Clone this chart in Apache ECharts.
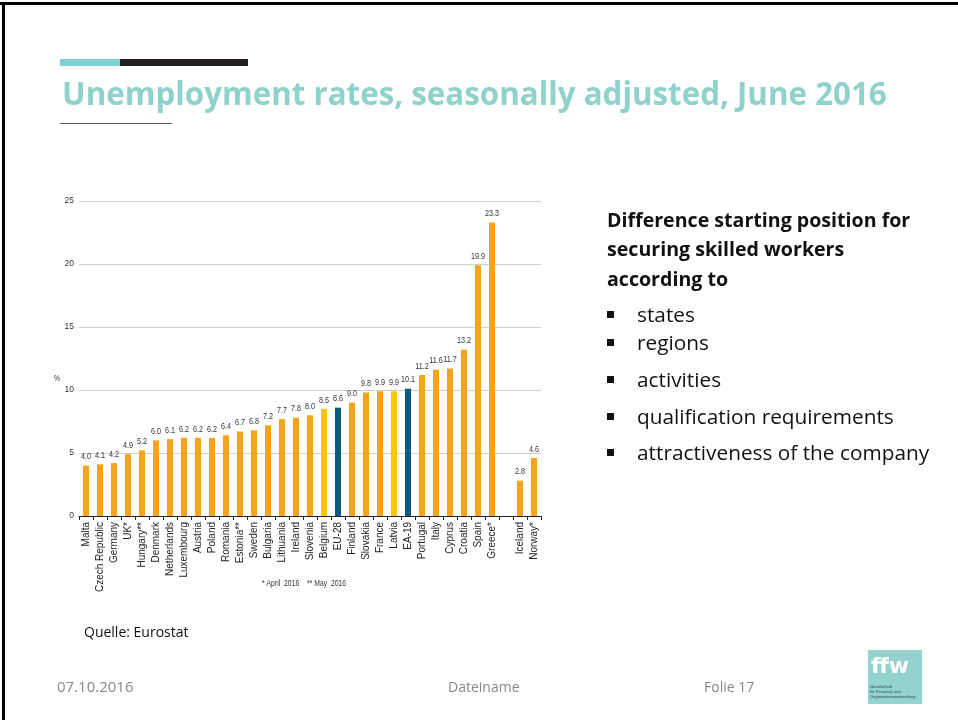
<!DOCTYPE html>
<html>
<head>
<meta charset="utf-8">
<script src="https://cdn.jsdelivr.net/npm/echarts@6/dist/echarts.min.js"></script>
<style>
  html, body { margin: 0; padding: 0; background: #fff; }
  #chart { width: 958px; height: 720px; }
</style>
</head>
<body>
<div id="chart"></div>
<script>
// Unemployment rates (%), seasonally adjusted, June 2016 — Eurostat
const countries = ['Malta', 'Czech Republic', 'Germany', 'UK*', 'Hungary**', 'Denmark', 'Netherlands',
  'Luxembourg', 'Austria', 'Poland', 'Romania', 'Estonia**', 'Sweden', 'Bulgaria', 'Lithuania',
  'Ireland', 'Slovenia', 'Belgium', 'EU-28', 'Finland', 'Slovakia', 'France', 'Latvia', 'EA-19',
  'Portugal', 'Italy', 'Cyprus', 'Croatia', 'Spain', 'Greece*', '', 'Iceland', 'Norway*'];
const rates = [4.0, 4.1, 4.2, 4.9, 5.2, 6.0, 6.1, 6.2, 6.2, 6.2, 6.4, 6.7, 6.8, 7.2, 7.7,
  7.8, 8.0, 8.5, 8.6, 9.0, 9.8, 9.9, 9.9, 10.1, 11.2, 11.6, 11.7, 13.2, 19.9, 23.3, null, 2.8, 4.6];
const yTicks = [0, 5, 10, 15, 20, 25];
const aggregates = ['EU-28', 'EA-19'];
const highlighted = ['Belgium', 'Latvia'];
const bulletItems = ['states', 'regions', 'activities', 'qualification requirements', 'attractiveness of the company'];

const chartFont = '"Liberation Sans", Arial, sans-serif';
const slideFont = '"Open Sans", "Noto Sans", sans-serif';
const squeeze = 0.76;   // horizontal condensing of the small chart annotations

const chart = echarts.init(document.getElementById('chart'), null, { renderer: 'canvas' });

const bulletY = [315, 343, 380, 417, 453];
const graphics = [
  // slide frame (top and left edges)
  { type: 'rect', shape: { x: 0, y: 2, width: 958, height: 3 }, style: { fill: '#000' } },
  { type: 'rect', shape: { x: 2, y: 2, width: 3, height: 718 }, style: { fill: '#000' } },
  // header accent bar
  { type: 'rect', shape: { x: 60, y: 59, width: 60, height: 7 }, style: { fill: '#7ECFD0' } },
  { type: 'rect', shape: { x: 120, y: 59, width: 128, height: 7 }, style: { fill: '#231F20' } },
  // title
  { type: 'text', x: 62, y: 81, style: { text: 'Unemployment rates, seasonally adjusted, June 2016',
      font: 'bold 31.3px ' + slideFont, fill: '#8FD1CB' } },
  { type: 'rect', shape: { x: 60, y: 123, width: 112, height: 1 }, style: { fill: '#555' } },
  // axis unit
  { type: 'text', x: 54, y: 374, scaleX: squeeze, style: { text: '%', font: '9px ' + chartFont, fill: '#333' } },
  // footnotes of the chart
  { type: 'text', x: 262, y: 579, scaleX: squeeze, style: { text: '* April  2016', font: '9px ' + chartFont, fill: '#333' } },
  { type: 'text', x: 307, y: 579, scaleX: squeeze, style: { text: '** May  2016', font: '9px ' + chartFont, fill: '#333' } },
  // side text
  { type: 'text', x: 607, y: 206.5, style: {
      text: 'Difference starting position for\nsecuring skilled workers\naccording to',
      font: 'bold 19.6px ' + slideFont, fill: '#111', lineHeight: 29.5 } },
  // footer
  { type: 'text', x: 84, y: 626, style: { text: 'Quelle: Eurostat', font: '14px ' + slideFont, fill: '#111' } },
  { type: 'text', x: 57, y: 680, style: { text: '07.10.2016', font: '15px ' + slideFont, fill: '#888' } },
  { type: 'text', x: 448, y: 681, style: { text: 'Dateiname', font: '14px ' + slideFont, fill: '#888' } },
  { type: 'text', x: 704, y: 681, style: { text: 'Folie 17', font: '14px ' + slideFont, fill: '#888' } },
  // logo
  { type: 'rect', shape: { x: 868, y: 650, width: 54, height: 54 }, style: { fill: '#93D2CD' } },
  { type: 'text', x: 871, y: 656, style: { text: 'ffw', font: 'bold 22px "DejaVu Sans", sans-serif', fill: '#fff' } },
  { type: 'text', x: 870, y: 684, style: {
      text: 'Gesellschaft\nfür Personal- und\nOrganisationsentwicklung',
      font: '4px "Liberation Sans", sans-serif', fill: '#2a4a48', lineHeight: 5 } }
];
bulletItems.forEach(function (t, i) {
  graphics.push({ type: 'rect', shape: { x: 607, y: bulletY[i] - 4, width: 7, height: 7 }, style: { fill: '#111' } });
  graphics.push({ type: 'text', x: 637, y: bulletY[i] - 9, style: { text: t, font: '20.8px ' + slideFont, fill: '#111' } });
});

chart.setOption({
  animation: false,
  backgroundColor: '#fff',
  grid: { left: 79, right: 417, top: 201, bottom: 204, containLabel: false },
  xAxis: {
    type: 'category',
    data: countries,
    boundaryGap: true,
    axisLine: { lineStyle: { color: '#222', width: 1 } },
    axisTick: { show: true, length: 4, lineStyle: { color: '#222' } },
    axisLabel: { interval: 0, rotate: 90, fontSize: 10, fontFamily: chartFont, color: '#222', margin: 6 }
  },
  yAxis: {
    type: 'value',
    min: yTicks[0],
    max: yTicks[yTicks.length - 1],
    interval: yTicks[1] - yTicks[0],
    axisLine: { show: false },
    axisTick: { show: false },
    axisLabel: { fontSize: 8.5, fontFamily: chartFont, color: '#333', margin: 5 },
    splitLine: { lineStyle: { color: '#cfcfcf', width: 1 } }
  },
  series: [{
    type: 'bar',
    data: rates,
    barWidth: 6,
    itemStyle: {
      color: function (p) {
        if (aggregates.indexOf(p.name) >= 0) return '#0B5880';
        if (highlighted.indexOf(p.name) >= 0) return '#FFC20E';
        return '#F7A21B';
      }
    }
  }, {
    // value labels above the bars, condensed like the source figure
    type: 'custom',
    data: rates.map(function (v, i) { return [i, v]; }),
    silent: true,
    renderItem: function (params, api) {
      const v = api.value(1);
      if (v == null || isNaN(v)) return null;
      const pt = api.coord([api.value(0), v]);
      return {
        type: 'text',
        x: pt[0], y: pt[1] - 4,
        scaleX: squeeze,
        style: { text: v.toFixed(1), font: '9.5px ' + chartFont, fill: '#333',
          align: 'center', verticalAlign: 'bottom' }
      };
    }
  }],
  graphic: graphics
});
</script>
</body>
</html>
